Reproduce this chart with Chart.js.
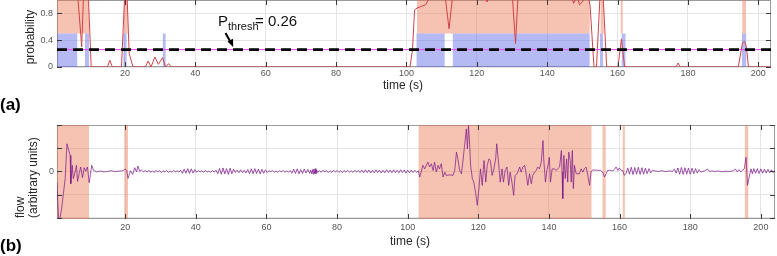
<!DOCTYPE html>
<html><head><meta charset="utf-8">
<script src="https://cdn.jsdelivr.net/npm/chart.js@4.4.1/dist/chart.umd.min.js"></script>
<style>
html,body{margin:0;padding:0;background:#fff;width:777px;height:256px;overflow:hidden;}
canvas{position:absolute;left:0;}
#ca{top:0;} #cb{top:115px;}
</style></head><body>
<canvas id="ca" width="777" height="115"></canvas>
<canvas id="cb" width="777" height="141"></canvas>
<script>
// ---------------- data ----------------
const pThresh = 0.26;
const timeTicks = [20, 40, 60, 80, 100, 120, 140, 160, 180, 200];
const timeTickLabels = ['20', '40', '60', '80', '100', '120', '140', '160', '180', '200'];
const probTicks = [0, 0.2, 0.4, 0.6, 0.8, 1];
const probTickLabels = ['0', '0.2', '0.4', '0.6', '0.8', ''];
const flowTicks = [-2, -1, 0, 1, 2];
const flowTickLabels = ['', '', '0', '', ''];

// detected events (probability above threshold), seconds
const detectedEvents = [[0.68, 9.8], [19.7, 20.8], [103.0, 152.1], [155.1, 156.1], [160.8, 161.5], [195.4, 196.5]];
// reference (true) events, seconds
const trueEvents = [[0.68, 6.5], [8.6, 9.8], [19.5, 20.5], [30.7, 31.6], [102.8, 110.9], [113.1, 152.1], [155.0, 155.9], [161.1, 162.3], [195.3, 196.6]];

// probability trace [time, p]
const probability = [
  [0.68, 1.05], [6.6, 1.05], [7.7, 0.3], [8.2, 1.05], [9.6, 1.05], [10.4, 0],
  [15.0, 0], [15.7, 0.1], [16.4, 0], [19.0, 0], [19.9, 1.05], [20.6, 1.05], [21.2, 0.2], [22.3, 0],
  [25.8, 0], [26.6, 0.09], [27.4, 0], [28.5, 0.15], [29.5, 0.04], [30.7, 0.14], [31.5, 0], [32.4, 0.05], [33.2, 0],
  [101.0, 0], [101.7, 0.25], [102.3, 0.85], [103.0, 0.88], [104.0, 0.9], [105.5, 0.93], [106.6, 1.05],
  [111.0, 1.05], [112.1, 0.57], [113.1, 1.05], [122.5, 1.05], [122.9, 0.97], [123.3, 1.05],
  [130.1, 1.05], [131.0, 0.35], [131.7, 1.05], [147.0, 1.05], [147.5, 0.95], [148.5, 1.05], [149.2, 0.93],
  [150.0, 0.97], [150.8, 1.05], [151.8, 1.05], [152.2, 0.9], [153.3, 0], [154.0, 0], [155.0, 1.05],
  [155.9, 1.05], [156.9, 0], [160.1, 0], [161.1, 0.42], [162.0, 0], [176.6, 0], [177.2, 0.06], [177.8, 0],
  [194.3, 0], [195.5, 0.36], [196.1, 0.38], [196.6, 0.3], [197.2, 0], [203.6, 0]
];

// flow signal [time, flow (arbitrary units)]
const flowSignal = [
  [0.68, -0.46], [1.1, -2.0], [1.5, -2.05], [2.0, -1.6], [2.5, -0.94], [3.0, -0.3], [3.5, 1.19], [3.9, 0.97], [4.4, 0.69],
  [4.6, -0.53], [5.0, 0.26], [5.3, -0.31], [5.7, -0.1], [6.2, 0.26], [6.5, -0.43], [7.0, -0.06], [7.4, 0.19], [7.9, -0.27],
  [8.4, 0.16], [8.8, 0.01], [9.3, 0.19], [9.8, -0.49], [10.5, 0.27], [11.0, 0.05], [11.9, -0.02],
  [13, 0.02], [14, -0.02], [15, 0.0], [16, 0.03], [17, -0.01], [18, 0.01], [19, 0.02], [19.5, 0.05],
  [20.0, 0.1], [20.4, 0.05], [20.8, -0.3], [21.5, 0.03], [22.1, -0.13], [22.7, 0.16], [23.2, -0.02], [23.6, 0.23], [24.1, 0.0],
  [24.6, 0.06], [25.2, -0.02],
  [25.7, 0.04], [26.2, -0.03], [26.7, 0.05], [27.2, -0.04], [27.7, 0.03], [28.2, -0.05], [28.7, 0.05], [29.2, -0.03], [29.7, 0.04],
  [30.2, -0.05], [30.7, 0.03], [31.2, -0.02], [31.7, 0.04], [32.2, -0.04], [32.7, 0.02], [33.2, -0.03], [33.7, 0.04], [34.2, -0.02],
  [34.7, 0.03], [35.2, -0.03], [35.7, 0.05],
  [36.2, -0.08], [36.7, 0.1], [37.2, -0.08], [37.7, 0.12], [38.2, -0.09], [38.7, 0.11], [39.2, -0.07], [39.7, 0.08], [40.2, -0.04],
  [40.7, 0.04], [41.2, -0.03], [41.7, 0.03], [42.2, -0.04], [42.7, 0.05], [43.2, -0.03], [43.7, 0.02], [44.2, -0.04], [44.7, 0.04],
  [45.2, -0.03], [45.7, 0.05],
  [46.2, -0.1], [46.7, 0.13], [47.2, -0.12], [47.7, 0.15], [48.2, -0.11], [48.7, 0.12], [49.2, -0.13], [49.7, 0.14], [50.2, -0.1], [50.7, 0.1],
  [51.2, -0.05], [51.7, 0.06], [52.2, -0.05], [52.7, 0.07], [53.2, -0.06], [53.7, 0.05], [54.2, -0.07], [54.7, 0.08],
  [55.2, -0.1], [55.7, 0.11], [56.2, -0.1], [56.7, 0.12], [57.2, -0.09], [57.7, 0.1], [58.2, -0.11], [58.7, 0.09], [59.2, -0.08],
  [59.7, 0.07], [60.2, -0.05],
  [60.7, 0.03], [61.2, -0.02], [61.7, 0.04], [62.2, -0.03], [62.7, 0.02], [63.2, -0.04], [63.7, 0.03], [64.2, -0.02], [64.7, 0.04],
  [65.2, -0.03], [65.7, 0.02], [66.2, -0.03], [66.7, 0.04],
  [67.2, -0.08], [67.7, 0.1], [68.2, -0.09], [68.7, 0.11], [69.2, -0.1], [69.7, 0.08], [70.2, -0.09], [70.7, 0.1], [71.2, -0.07],
  [71.7, 0.09], [72.2, -0.08],
  [72.5, 0.05], [72.8, -0.1], [73.0, 0.08], [73.2, -0.12], [73.4, 0.1], [73.6, -0.09], [73.8, 0.12], [74.0, -0.1], [74.2, 0.06], [74.5, -0.05],
  [75.0, 0.04], [75.5, -0.04], [76, 0.05], [76.5, -0.03], [77, 0.04], [77.5, -0.05], [78, 0.03], [78.5, -0.04], [79, 0.05], [79.5, -0.03],
  [80, 0.04], [80.5, -0.04], [81, 0.03], [81.5, -0.05], [82, 0.04], [82.5, -0.03], [83, 0.05], [83.5, -0.04], [84, 0.03], [84.5, -0.04],
  [85, 0.05], [85.5, -0.03], [86, 0.04], [86.5, -0.05],
  [87, 0.06], [87.5, -0.06], [88, 0.07], [88.5, -0.05], [89, 0.06], [89.5, -0.07], [90, 0.05], [90.5, -0.06], [91, 0.07], [91.5, -0.05],
  [92, 0.06], [92.5, -0.07], [93, 0.05], [93.5, -0.06], [94, 0.07], [94.5, -0.05], [95, 0.06], [95.5, -0.06], [96, 0.07], [96.5, -0.05],
  [97, 0.05], [97.5, -0.06], [98, 0.07], [98.5, -0.05], [99, 0.06], [99.5, -0.07], [100, 0.05], [100.5, -0.06], [101, 0.06], [101.5, -0.05],
  [102, 0.05], [102.5, -0.04], [103.0, 0.03],
  [103.4, -0.24], [104.3, 0.26], [104.8, 0.11], [105.7, 0.40], [106.2, 0.19], [106.7, 0.33], [107.2, 0.04], [107.6, 0.40], [108.1, -0.03],
  [108.6, 0.26], [109.0, 0.11], [109.5, 0.33], [110.0, -0.24], [110.5, -0.03], [110.9, -0.17], [111.9, -0.15], [112.8, -0.17],
  [113.3, 0.04], [113.8, 0.83], [114.2, 0.54], [114.7, 0.04], [115.2, -0.10], [115.6, 0.40], [116.1, 1.12], [116.6, 1.83], [116.9, 0.97],
  [117.2, 1.97], [117.5, 1.26], [117.8, 0.26], [118.3, -0.31], [118.7, -0.46], [119.2, -0.89], [119.7, -1.46], [120.2, -0.67],
  [120.6, 0.11], [121.1, -0.60], [121.6, 0.47], [122.1, -0.46], [122.5, 0.26], [123.0, 0.54], [123.4, 0.47], [123.9, -0.17],
  [124.4, 0.11], [124.9, 0.54], [125.2, 1.19], [125.7, 0.40], [126.2, -0.46], [126.7, 0.11], [127.1, -0.46], [127.6, 0.04],
  [128.1, 0.19], [128.6, -0.60], [129.0, -0.03], [129.5, -0.46], [130.0, -1.03], [130.4, -0.17], [131.0, -0.10],
  [131.7, 0.19], [132.1, -0.03], [132.6, 0.19], [133.1, 0.26], [133.6, -0.17], [134.0, -0.60], [134.5, -0.10], [135.0, -0.53],
  [135.4, -0.17], [135.9, -0.03], [136.4, 0.04], [136.8, 0.19], [137.3, 0.11], [137.8, 0.40], [138.3, 1.33], [138.5, 0.54],
  [139.0, -0.46], [139.4, 0.04], [139.9, 0.40], [140.1, 0.61], [140.4, -0.46], [140.9, 0.11], [141.6, 0.11], [142.0, 0.04],
  [143.0, 0.19], [143.5, 0.9], [143.7, -0.03], [143.9, -1.17], [144.2, 0.69], [144.6, -0.31], [145.0, 0.54], [145.3, -0.46],
  [145.6, 0.83], [146.0, 0.47], [146.3, -0.46], [146.6, 0.90], [146.9, -0.74], [147.2, 0.26], [147.7, -0.10], [148.6, -0.10],
  [149.1, 0.11], [149.6, -0.03], [150.0, 0.11], [150.5, 0.19], [151.0, -0.17], [151.5, -0.60], [151.9, -0.03], [152.4, 0.07],
  [153.0, 0.05], [153.5, 0.06], [154.0, 0.04], [154.5, 0.05], [155.2, -0.03], [155.7, -0.24], [156.2, -0.10], [156.6, 0.04],
  [157.1, 0.05], [157.6, 0.04], [158.1, 0.02], [158.5, 0.09], [159.0, 0.19], [159.5, 0.04], [159.9, 0.15], [160.4, 0.05],
  [160.9, 0.04], [161.3, -0.17], [161.8, -0.10],
  [162.3, 0.15], [162.8, -0.12], [163.3, 0.18], [163.8, -0.14], [164.3, 0.17], [164.8, -0.12], [165.3, 0.18], [165.8, -0.13],
  [166.3, 0.16], [166.8, -0.12], [167.3, 0.14], [167.8, -0.1], [168.3, 0.12], [168.8, -0.06], [169.3, 0.05],
  [170, 0.02], [171, 0.0], [172, 0.03], [173, -0.01], [174, 0.02], [175, 0.0],
  [175.5, 0.1], [176, -0.08], [176.5, 0.15], [177, -0.12], [177.5, 0.17], [178, -0.13], [178.5, 0.16], [179, -0.12], [179.5, 0.15],
  [180, -0.12], [180.5, 0.14], [181, -0.1], [181.5, 0.12], [182, -0.07], [182.5, 0.08], [183, -0.03],
  [184, 0.02], [184.9, 0.1], [185.4, 0.0], [186, 0.02], [187, 0.0], [188, 0.02], [189, -0.01], [190, 0.01], [191, 0.0], [192, 0.02],
  [192.8, 0.1], [193.3, -0.02], [193.8, 0.08], [194.3, -0.02], [194.8, 0.05],
  [195.3, 0.11], [195.8, 0.61], [196.2, -0.6], [196.7, -0.24], [197.2, 0.11], [197.6, -0.10], [198.0, 0.12], [198.5, -0.08],
  [199, 0.12], [199.5, -0.09], [200, 0.11], [200.5, -0.08], [201, 0.1], [201.5, -0.07], [202, 0.09], [202.5, -0.06], [203, 0.07],
  [203.5, -0.05], [204, 0.04]
];

// ---------------- helpers ----------------
const FONT = '"Liberation Sans", Arial, sans-serif';
const SALMON = 'rgba(234,120,82,0.45)';
const BLUE = 'rgba(100,110,232,0.48)';
const toXY = arr => arr.map(p => ({ x: p[0], y: p[1] }));
function seg(ctx, x1, y1, x2, y2) { ctx.beginPath(); ctx.moveTo(x1, y1); ctx.lineTo(x2, y2); ctx.stroke(); }
function noPad(s) { s.paddingTop = 0; s.paddingBottom = 0; s.paddingLeft = 0; s.paddingRight = 0; }

const axesBox = {
  id: 'axesBox',
  beforeDatasetsDraw(chart) {
    const { ctx, chartArea: a } = chart;
    ctx.save(); ctx.strokeStyle = '#9a9a9a'; ctx.lineWidth = 1;
    ctx.strokeRect(a.left + 0.5, a.top + 0.5, a.right - a.left - 1, a.bottom - a.top - 1);
    ctx.restore();
  },
  afterDatasetsDraw(chart) {
    const { ctx, chartArea: a, scales: { x, y } } = chart;
    ctx.save(); ctx.strokeStyle = '#3a3a3a'; ctx.lineWidth = 1;
    x.ticks.forEach(t => { const p = Math.round(x.getPixelForValue(t.value)) + 0.5; seg(ctx, p, a.top, p, a.top + 5); seg(ctx, p, a.bottom, p, a.bottom - 5); });
    y.ticks.forEach(t => { const p = Math.round(y.getPixelForValue(t.value)) + 0.5; seg(ctx, a.left, p, a.left + 5, p); seg(ctx, a.right, p, a.right - 5, p); });
    ctx.restore();
  }
};

function xScale(min, max, height, pad) {
  return {
    type: 'linear', min: min, max: max,
    afterBuildTicks: s => { s.ticks = timeTicks.map(v => ({ value: v })); },
    afterFit: s => { s.height = height; noPad(s); },
    grid: { color: '#e4e4e4', drawTicks: false },
    border: { display: false },
    ticks: { padding: pad, color: '#555', font: { family: FONT, size: 9 }, maxRotation: 0, autoSkip: false,
      callback: (v, i) => timeTickLabels[i] }
  };
}

// ---------------- panel (a) ----------------
const XA_MIN = 0.68, XA_MAX = 203.6;
const dsA = [];
dsA.push({ data: [{ x: XA_MIN, y: pThresh }, { x: XA_MAX, y: pThresh }], borderColor: '#000', borderWidth: 2.7, borderDash: [10, 6], pointRadius: 0, order: 0 });
dsA.push({ data: [{ x: XA_MIN, y: pThresh }, { x: XA_MAX, y: pThresh }], borderColor: '#ff40ff', borderWidth: 1, pointRadius: 0, order: 1 });
dsA.push({ data: toXY(probability), borderColor: '#d2424a', borderWidth: 1, pointRadius: 0, tension: 0, order: 2 });
trueEvents.forEach(e => dsA.push({ data: [{ x: e[0], y: 0.5 }, { x: e[1], y: 0.5 }], borderColor: 'transparent', borderWidth: 0, backgroundColor: BLUE, fill: 'origin', pointRadius: 0, order: 3 }));
detectedEvents.forEach(e => dsA.push({ data: [{ x: e[0], y: 1 }, { x: e[1], y: 1 }], borderColor: 'transparent', borderWidth: 0, backgroundColor: SALMON, fill: { value: 0.5 }, pointRadius: 0, order: 4 }));

const textA = {
  id: 'textA',
  afterDraw(chart) {
    const ctx = chart.ctx; ctx.save();
    ctx.fillStyle = '#262626'; ctx.textAlign = 'center'; ctx.textBaseline = 'middle';
    ctx.font = '12px ' + FONT;
    ctx.fillText('time (s)', 403, 86);
    ctx.save(); ctx.translate(31, 37); ctx.rotate(-Math.PI / 2); ctx.fillText('probability', 0, 0); ctx.restore();
    ctx.font = 'bold 17px ' + FONT; ctx.textAlign = 'left'; ctx.fillStyle = '#000';
    ctx.fillText('(a)', 0, 105);
    // annotation
    ctx.fillStyle = '#111'; ctx.textBaseline = 'alphabetic';
    ctx.font = '15px ' + FONT; ctx.fillText('P', 218, 26);
    ctx.font = '11px ' + FONT; ctx.fillText('thresh', 228, 30);
    ctx.font = '15px ' + FONT; ctx.fillText('= 0.26', 255, 26);
    ctx.strokeStyle = '#000'; ctx.lineWidth = 2;
    seg(ctx, 225.5, 33, 230.5, 42);
    ctx.beginPath(); ctx.moveTo(233.2, 47); ctx.lineTo(227.5, 41.5); ctx.lineTo(233, 38.8); ctx.closePath(); ctx.fillStyle = '#000'; ctx.fill();
    ctx.restore();
  }
};

new Chart(document.getElementById('ca'), {
  type: 'line',
  data: { datasets: dsA },
  options: {
    responsive: false, animation: false, events: [],
    layout: { padding: { left: 0, right: 6, top: 0, bottom: 0 } },
    scales: {
      x: xScale(XA_MIN, XA_MAX, 48, 1),
      y: {
        min: 0, max: 1,
        afterBuildTicks: s => { s.ticks = probTicks.map(v => ({ value: v })); },
        afterFit: s => { s.width = 57; noPad(s); },
        grid: { color: '#e4e4e4', drawTicks: false }, border: { display: false },
        ticks: { padding: 4, color: '#555', font: { family: FONT, size: 9 }, callback: (v, i) => probTickLabels[i] }
      }
    },
    plugins: { legend: { display: false }, tooltip: { enabled: false } }
  },
  plugins: [axesBox, textA]
});

// ---------------- panel (b) ----------------
const XB_MIN = 0.68, XB_MAX = 204.0;
const dsB = [];
dsB.push({ data: toXY(flowSignal), borderColor: 'rgba(125,25,140,0.72)', borderWidth: 1, pointRadius: 0, tension: 0, order: 0 });
detectedEvents.forEach(e => dsB.push({ data: [{ x: e[0], y: 2 }, { x: e[1], y: 2 }], borderColor: 'transparent', borderWidth: 0, backgroundColor: SALMON, fill: 'start', pointRadius: 0, order: 2 }));

const textB = {
  id: 'textB',
  afterDraw(chart) {
    const ctx = chart.ctx; ctx.save();
    ctx.fillStyle = '#262626'; ctx.textAlign = 'center'; ctx.textBaseline = 'middle';
    ctx.font = '12px ' + FONT;
    ctx.fillText('time (s)', 410, 126.7);
    ctx.save(); ctx.translate(21, 103); ctx.rotate(-Math.PI / 2); ctx.textAlign = 'left'; ctx.fillText('flow', 0, 0); ctx.restore();
    ctx.save(); ctx.translate(34, 103); ctx.rotate(-Math.PI / 2); ctx.textAlign = 'left'; ctx.fillText('(arbitrary units)', 0, 0); ctx.restore();
    ctx.font = 'bold 17px ' + FONT; ctx.textAlign = 'left'; ctx.fillStyle = '#000';
    ctx.fillText('(b)', 0, 131.5);
    ctx.restore();
  }
};

new Chart(document.getElementById('cb'), {
  type: 'line',
  data: { datasets: dsB },
  options: {
    responsive: false, animation: false, events: [],
    layout: { padding: { left: 0, right: 2, top: 10, bottom: 0 } },
    scales: {
      x: xScale(XB_MIN, XB_MAX, 37, 3),
      y: {
        min: -2.05, max: 2,
        afterBuildTicks: s => { s.ticks = flowTicks.map(v => ({ value: v })); },
        afterFit: s => { s.width = 57; noPad(s); },
        grid: { color: '#e4e4e4', drawTicks: false }, border: { display: false },
        ticks: { padding: 3, color: '#555', font: { family: FONT, size: 9 }, callback: (v, i) => flowTickLabels[i] }
      }
    },
    plugins: { legend: { display: false }, tooltip: { enabled: false } }
  },
  plugins: [axesBox, textB]
});
</script></body></html>
